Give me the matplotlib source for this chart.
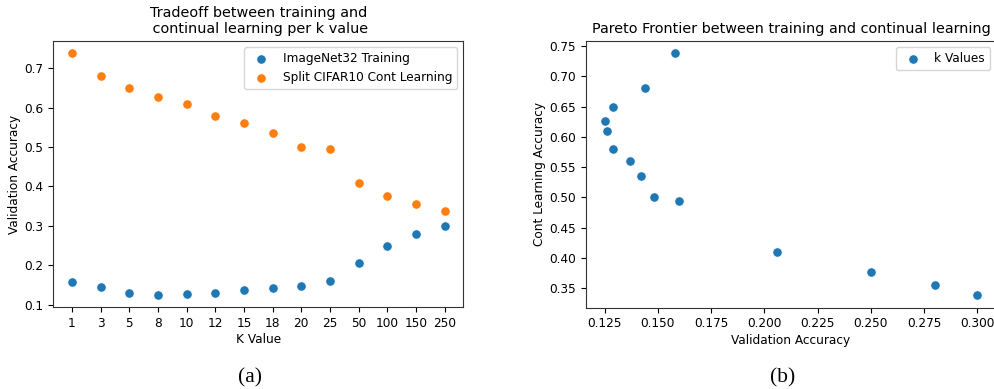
import matplotlib
matplotlib.use("Agg")
import matplotlib.pyplot as plt

# k values and validation accuracies for each run
k_values = ["1", "3", "5", "8", "10", "12", "15", "18", "20", "25", "50", "100", "150", "250"]
imagenet_acc = [0.158, 0.144, 0.129, 0.125, 0.126, 0.129, 0.137, 0.142, 0.148, 0.160, 0.206, 0.250, 0.280, 0.300]
cifar_acc = [0.738, 0.680, 0.650, 0.626, 0.610, 0.580, 0.560, 0.536, 0.500, 0.494, 0.410, 0.376, 0.355, 0.338]

blue = "#1f77b4"
orange = "#ff7f0e"

plt.rcParams["font.size"] = 8.7
plt.rcParams["axes.titlesize"] = 10.4
plt.rcParams["legend.fontsize"] = 8.7
plt.rcParams["axes.labelpad"] = 2.5

W, H = 995, 389
fig = plt.figure(figsize=(W / 100, H / 100), dpi=100)

def box(x0, y0, x1, y1):
    return [x0 / W, 1 - y1 / H, (x1 - x0) / W, (y1 - y0) / H]

# (a) accuracy per k value
ax1 = fig.add_axes(box(53.3, 41.3, 463.3, 306.8))
ax1.scatter(k_values, imagenet_acc, s=44, color=blue, edgecolors="white", linewidths=0.4,
            label="ImageNet32 Training")
ax1.scatter(k_values, cifar_acc, s=44, color=orange, edgecolors="white", linewidths=0.4,
            label="Split CIFAR10 Cont Learning")
ax1.set_title("Tradeoff between training and\n continual learning per k value")
ax1.set_xlabel("K Value")
ax1.set_ylabel("Validation Accuracy")
ax1.legend(loc="upper right")

# (b) pareto frontier
ax2 = fig.add_axes(box(586, 41.3, 996, 307.5))
ax2.scatter(imagenet_acc, cifar_acc, s=44, color=blue, edgecolors="white", linewidths=0.4,
            label="k Values")
ax2.set_title("Pareto Frontier between training and continual learning")
ax2.set_xlabel("Validation Accuracy")
ax2.set_ylabel("Cont Learning Accuracy")
ax2.legend(loc="upper right")

for ax in (ax1, ax2):
    for sp in ax.spines.values():
        sp.set_color("#333333")

fig.text(250 / W, 1 - 378 / H, "(a)", family="Liberation Serif", fontsize=15.5,
         ha="center", va="center")
fig.text(783 / W, 1 - 378 / H, "(b)", family="Liberation Serif", fontsize=15.5,
         ha="center", va="center")

fig.savefig("out.png", dpi=100)
